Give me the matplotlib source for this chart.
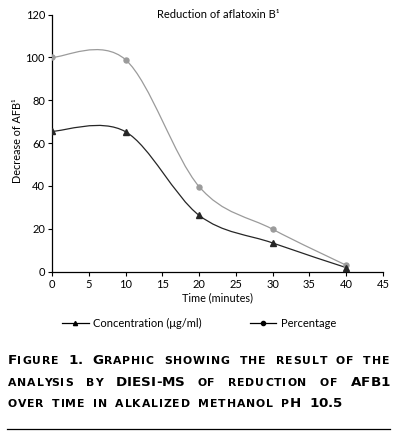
import matplotlib
matplotlib.use("Agg")
import matplotlib.pyplot as plt
from matplotlib.path import Path
from matplotlib.patches import PathPatch
from matplotlib.lines import Line2D
import numpy as np

# ---- data ----
time_min = [0, 10, 20, 30, 40]
concentration = [65.5, 65.3, 26.3, 13.4, 1.9]
percentage = [100.0, 98.9, 39.7, 19.8, 3.0]
x_ticks = [0, 5, 10, 15, 20, 25, 30, 35, 40, 45]
y_ticks = [0, 20, 40, 60, 80, 100, 120]
title = "Reduction of aflatoxin B\u00b9"
x_label = "Time (minutes)"
y_label = "Decrease of AFB\u00b9"
legend_labels = ["Concentration (\u03bcg/ml)", "Percentage"]

W, H = 396, 437
FAM = ["Lato", "DejaVu Sans"]
plt.rcParams["font.family"] = FAM

fig = plt.figure(figsize=(W / 100, H / 100), dpi=100)
ax = fig.add_axes([52 / W, 1 - 271.7 / H, (383 - 52) / W, (271.7 - 14.5) / H])

C_CONC = "#262626"
C_PCT = "#9b9b9b"


def smooth_path(xs, ys):
    pts = np.column_stack([xs, ys]).astype(float)
    n = len(pts)
    verts = [pts[0]]
    codes = [Path.MOVETO]
    for i in range(n - 1):
        p0 = pts[i - 1] if i > 0 else pts[i]
        p1 = pts[i]
        p2 = pts[i + 1]
        p3 = pts[i + 2] if i + 2 < n else pts[i + 1]
        c1 = p1 + (p2 - p0) / 6.0
        c2 = p2 - (p3 - p1) / 6.0
        verts += [c1, c2, p2]
        codes += [Path.CURVE4] * 3
    return Path(verts, codes)


for ys, col, mk in [(percentage, C_PCT, "o"), (concentration, C_CONC, "^")]:
    ax.add_patch(PathPatch(smooth_path(time_min, ys), facecolor="none",
                           edgecolor=col, lw=0.9))
    ax.plot(time_min, ys, linestyle="none", marker=mk, color=col,
            markersize=3.6 if mk == "o" else 3.8, zorder=3)

ax.set_xlim(0, 45)
ax.set_ylim(0, 120)
ax.set_xticks(x_ticks)
ax.set_yticks(y_ticks)
for s in ["top", "right"]:
    ax.spines[s].set_visible(False)
for s in ["left", "bottom"]:
    ax.spines[s].set_linewidth(0.9)
ax.tick_params(axis="both", labelsize=8.0, length=3, width=0.8, pad=2)
ax.set_xlabel(x_label, fontsize=7.8, labelpad=2)

fig.text(218 / W, 1 - 15 / H, title, ha="center", va="center", fontsize=8.0)
fig.text(18 / W, 1 - 141 / H, y_label, ha="center", va="center",
         rotation=90, fontsize=7.8)

handles = [
    Line2D([], [], color="black", lw=0.9, marker="^", markersize=3),
    Line2D([], [], color="black", lw=0.9, marker="o", markersize=3),
]
fig.legend(handles, legend_labels, loc="center", ncol=2, frameon=False,
           bbox_to_anchor=(199 / W, 1 - 323 / H), fontsize=8.0,
           handlelength=2.4, handletextpad=0.4, columnspacing=4.3)

# ---- caption (small caps, letter-spaced, justified) ----
CAP_FAM = ["DejaVu Sans"]
BIG, SMALL = 9.7, 7.8
TRACK_BIG, TRACK_SMALL = 0.0, 0.9
renderer = fig.canvas.get_renderer()


def text_w(s, size):
    t = fig.text(0, 0, s, fontsize=size, weight="bold", family=CAP_FAM)
    w = t.get_window_extent(renderer).width
    t.remove()
    return w


def make_word(w):
    objs = []
    x = 0.0
    for txt, big in w:
        size = BIG if big else SMALL
        tr = TRACK_BIG if big else TRACK_SMALL
        for i, ch in enumerate(txt):
            off = (text_w(txt[:i], size) if i else 0.0) + i * tr
            t = fig.text(0, 0, ch, fontsize=size, weight="bold",
                         family=CAP_FAM, va="baseline", ha="left")
            objs.append((t, x + off))
        x += text_w(txt, size) + len(txt) * tr
    return objs, x


def caption_line(words, base_px, justify, x0=8, x1=390):
    built = [make_word(w) for w in words]
    widths = [b[1] for b in built]
    if justify:
        gap = (x1 - x0 - sum(widths)) / (len(words) - 1)
    else:
        gap = 7.5
    x = x0
    for (objs, wtot) in built:
        for t, off in objs:
            t.set_position(((x + off) / W, 1 - base_px / H))
        x += wtot + gap


S = lambda s: [(s, False)]
line1 = [[("F", True), ("IGURE", False)], [("1.", True)],
         [("G", True), ("RAPHIC", False)], S("SHOWING"), S("THE"),
         S("RESULT"), S("OF"), S("THE")]
line2 = [S("ANALYSIS"), S("BY"), [("DIESI-MS", True)], S("OF"),
         S("REDUCTION"), S("OF"), [("AFB1", True)]]
line3 = [S("OVER"), S("TIME"), S("IN"), S("ALKALIZED"), S("METHANOL"),
         [("P", False), ("H", True)], [("10.5", True)]]
caption_line(line1, 364, True)
caption_line(line2, 385.7, True)
caption_line(line3, 406.7, False)

fig.add_artist(Line2D([7 / W, 390 / W], [1 - 428.5 / H] * 2, color="black",
                      lw=0.9, transform=fig.transFigure))

fig.savefig("out.png", dpi=100)
